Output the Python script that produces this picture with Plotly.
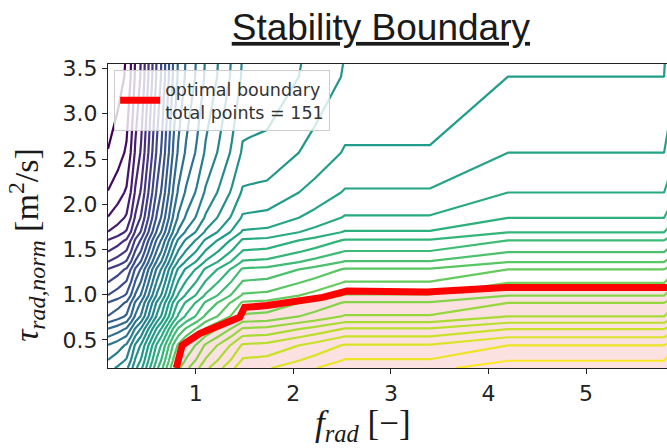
import plotly.graph_objects as go

# ---- data ----
# column nodes of the sampled grid (f_rad) and the level offset of each column
f_rad_nodes = [0.10, 0.20, 0.29, 0.34, 0.38, 0.44, 0.48, 0.52, 0.56, 0.60, 0.65, 0.69,
               0.73, 0.77, 0.82, 0.90, 1.01, 1.10, 1.24, 1.37, 1.48, 1.55, 1.73, 2.22,
               2.53, 3.40, 4.20, 5.80, 5.84]
f_rad_level = [-21.95, -21.45, -20.85, -19.85, -18.85, -17.85, -16.85, -15.85, -14.85,
               -13.85, -12.85, -11.85, -10.85, -9.85, -8.85, -7.85, -6.85, -5.85, -4.85,
               -3.85, -2.85, -2.80, -2.70, -1.65, -0.90, -0.90, 0.00, 0.00, 0.30]
# row nodes (tau_rad,norm) and the level of each row at the right edge
tau_nodes = [0.19, 0.27, 0.44, 0.53, 0.62, 0.69, 0.76, 0.91, 0.99, 1.13, 1.28, 1.36,
             1.47, 1.60, 1.69, 1.85, 2.13, 2.57, 3.41, 3.55]
tau_level = [39.6, 39.0, 38.0, 37.0, 36.0, 35.0, 34.0, 33.0, 32.0, 31.0, 30.0, 29.0,
             28.0, 27.0, 26.0, 25.0, 24.0, 23.0, 22.0, 21.95]

# optimal stability boundary
boundary_f = [0.80, 0.83, 0.86, 0.90, 1.04, 1.13, 1.35, 1.45, 1.50, 1.73, 2.30, 2.55,
              3.37, 4.17, 5.83]
boundary_tau = [0.19, 0.32, 0.44, 0.47, 0.57, 0.61, 0.70, 0.75, 0.86, 0.88, 0.97, 1.04,
                1.03, 1.08, 1.08]

x_ticks = [1, 2, 3, 4, 5]
y_ticks = [0.5, 1.0, 1.5, 2.0, 2.5, 3.0, 3.5]
x_range = [0.1, 5.83]
y_range = [0.19, 3.55]

# table needed by the contour trace, built from the two profiles
z_table = [[t + f for f in f_rad_level] for t in tau_level]

# stable-region fill (below the boundary), drawn beneath the contour lines
fill_path = "M {},{} ".format(boundary_f[0], y_range[0])
fill_path += " ".join("L {},{}".format(a, b) for a, b in zip(boundary_f, boundary_tau))
fill_path += " L {},{} Z".format(boundary_f[-1], y_range[0])

fig = go.Figure()

fig.add_trace(go.Contour(
    x=f_rad_nodes, y=tau_nodes, z=z_table,
    colorscale="Viridis", zauto=False, zmin=0, zmax=40,
    contours=dict(start=1, end=39, size=1, coloring="lines", showlabels=False),
    line=dict(width=2.2, smoothing=0),
    showscale=False, showlegend=False))

fig.add_trace(go.Scatter(
    x=boundary_f, y=boundary_tau, mode="lines",
    line=dict(color="#ff0000", width=7),
    name="optimal boundary<br>total points = 151", showlegend=True))

fig.update_layout(
    width=667, height=448,
    margin=dict(l=108, r=0, t=64, b=80),
    paper_bgcolor="white", plot_bgcolor="white",
    shapes=[dict(type="path", path=fill_path, xref="x", yref="y", layer="below",
                 fillcolor="#fce1e1", line=dict(width=0))],
    title=dict(text="<u>Stability Boundary</u>", x=0.571, xanchor="center",
               y=1 - 27 / 448, yanchor="middle", yref="container",
               font=dict(family="Liberation Sans, Arial", size=37, color="#1a1a1a")),
    legend=dict(x=0.011, y=0.98, xanchor="left", yanchor="top",
                bgcolor="rgba(255,255,255,0.8)", bordercolor="#cccccc", borderwidth=1,
                font=dict(family="DejaVu Sans", size=17.5, color="#333333"),
                itemwidth=40, tracegroupgap=0),
    xaxis=dict(range=x_range, tickvals=x_ticks, ticks="outside", ticklen=5,
               tickwidth=1.2, tickcolor="#222", showline=True, linecolor="#222",
               linewidth=1.2, mirror=True, showgrid=False, zeroline=False,
               tickfont=dict(family="DejaVu Sans", size=22, color="#222")),
    yaxis=dict(range=y_range, tickvals=y_ticks, tickformat=".1f", ticks="outside",
               ticklen=5, tickwidth=1.2, tickcolor="#222", showline=True,
               linecolor="#222", linewidth=1.2, showgrid=False, zeroline=False,
               tickfont=dict(family="DejaVu Sans", size=22, color="#222")),
    annotations=[
        dict(text="<i>f</i><sub><i>rad</i></sub> [−]", xref="paper", yref="paper",
             x=0.456, y=-80 / 304, xanchor="center", yanchor="bottom", showarrow=False,
             borderpad=0, font=dict(family="Liberation Serif", size=35, color="#1a1a1a")),
        dict(text="<i>τ</i><sub><i>rad,norm</i></sub> [m<sup>2</sup>/s]", xref="paper",
             yref="paper", x=-0.145, y=0.405, xanchor="center", yanchor="middle",
             textangle=-90, showarrow=False,
             font=dict(family="Liberation Serif", size=34, color="#1a1a1a")),
    ],
)

fig.write_html("out.html")
